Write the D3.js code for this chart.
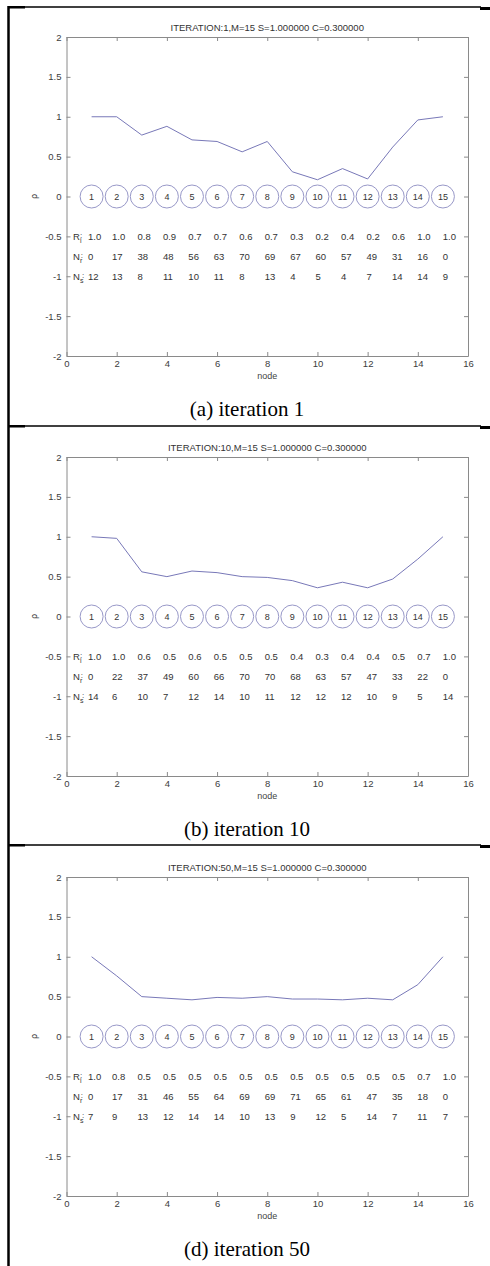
<!DOCTYPE html>
<html>
<head>
<meta charset="utf-8">
<script src="https://cdn.jsdelivr.net/npm/d3@7"></script>
<style>
  body { margin: 0; background: #fff; }
  svg { display: block; }
  .ax text { font-family: "Liberation Sans", Arial, sans-serif; font-size: 9.5px; fill: #3c3c3c; }
  .ax path, .ax line { stroke: #8a8a8a; }
</style>
</head>
<body>
<div id="chart"></div>
<script>
// ---- data ----
var nodes = [1,2,3,4,5,6,7,8,9,10,11,12,13,14,15];
var xTicks = [0,2,4,6,8,10,12,14,16];
var yTicks = [-2,-1.5,-1,-0.5,0,0.5,1,1.5,2];

var titles = [
  "ITERATION:1,M=15 S=1.000000 C=0.300000",
  "ITERATION:10,M=15 S=1.000000 C=0.300000",
  "ITERATION:50,M=15 S=1.000000 C=0.300000"
];
var captions = ["(a) iteration 1", "(b) iteration 10", "(d) iteration 50"];

// rho per node (the curve)
var rhoIter1  = [1.0,1.0,0.77,0.88,0.71,0.69,0.56,0.69,0.31,0.21,0.35,0.22,0.62,0.96,1.0];
var rhoIter10 = [1.0,0.98,0.56,0.50,0.57,0.55,0.50,0.49,0.45,0.36,0.43,0.36,0.47,0.72,1.0];
var rhoIter50 = [1.0,0.76,0.50,0.48,0.46,0.49,0.48,0.50,0.47,0.47,0.46,0.48,0.46,0.65,1.0];

// table rows
var riIter1  = ["1.0","1.0","0.8","0.9","0.7","0.7","0.6","0.7","0.3","0.2","0.4","0.2","0.6","1.0","1.0"];
var nrIter1  = [0,17,38,48,56,63,70,69,67,60,57,49,31,16,0];
var nsIter1  = [12,13,8,11,10,11,8,13,4,5,4,7,14,14,9];

var riIter10 = ["1.0","1.0","0.6","0.5","0.6","0.5","0.5","0.5","0.4","0.3","0.4","0.4","0.5","0.7","1.0"];
var nrIter10 = [0,22,37,49,60,66,70,70,68,63,57,47,33,22,0];
var nsIter10 = [14,6,10,7,12,14,10,11,12,12,12,10,9,5,14];

var riIter50 = ["1.0","0.8","0.5","0.5","0.5","0.5","0.5","0.5","0.5","0.5","0.5","0.5","0.5","0.7","1.0"];
var nrIter50 = [0,17,31,46,55,64,69,69,71,65,61,47,35,18,0];
var nsIter50 = [7,9,13,12,14,14,10,13,9,12,5,14,7,11,7];

var panels = [
  {title: titles[0], caption: captions[0], rho: rhoIter1,  ri: riIter1,  nr: nrIter1,  ns: nsIter1},
  {title: titles[1], caption: captions[1], rho: rhoIter10, ri: riIter10, nr: nrIter10, ns: nsIter10},
  {title: titles[2], caption: captions[2], rho: rhoIter50, ri: riIter50, nr: nrIter50, ns: nsIter50}
];

// ---- layout ----
var W = 490, H = 1266, step = 420;
var svg = d3.select("#chart").append("svg").attr("width", W).attr("height", H);

var x = d3.scaleLinear().domain([0,16]).range([66.5,468]);
var lineColor = "#7878b8", circColor = "#9898c8";
var sans = "'Liberation Sans', Arial, sans-serif";

// table frame
svg.append("line").attr("x1",8.5).attr("x2",8.5).attr("y1",6).attr("y2",H)
  .attr("stroke","#000").attr("stroke-width",2.5);
[7, 426, 845].forEach(function(yy){
  svg.append("line").attr("x1",8).attr("x2",481).attr("y1",yy).attr("y2",yy)
    .attr("stroke","#000").attr("stroke-width",1.3);
  svg.append("rect").attr("x",8).attr("y",yy-1).attr("width",17).attr("height",2.5).attr("fill","#000");
  svg.append("rect").attr("x",480).attr("y",yy).attr("width",10).attr("height",3).attr("fill","#000");
});

panels.forEach(function(p, k){
  var oy = k*step;
  var g = svg.append("g");
  var y = d3.scaleLinear().domain([-2,2]).range([356+oy, 37+oy]);

  // axes box (MATLAB style, ticks inward)
  g.append("g").attr("class","ax").attr("transform","translate(" + x(0) + ",0)")
    .call(d3.axisLeft(y).tickValues(yTicks).tickSizeInner(-4).tickSizeOuter(0).tickPadding(5).tickFormat(function(d){return String(d);}));
  g.append("g").attr("class","ax").attr("transform","translate(" + x(16) + ",0)")
    .call(d3.axisRight(y).tickValues(yTicks).tickSizeInner(-4).tickSizeOuter(0).tickFormat(""));
  g.append("g").attr("class","ax").attr("transform","translate(0," + y(-2) + ")")
    .call(d3.axisBottom(x).tickValues(xTicks).tickSizeInner(-4).tickSizeOuter(0).tickPadding(4).tickFormat(function(d){return String(d);}));
  g.append("g").attr("class","ax").attr("transform","translate(0," + y(2) + ")")
    .call(d3.axisTop(x).tickValues(xTicks).tickSizeInner(-4).tickSizeOuter(0).tickFormat(""));

  // title
  g.append("text").attr("x",(x(0)+x(16))/2).attr("y",31+oy).attr("text-anchor","middle")
    .attr("font-family",sans).attr("font-size",9.5).attr("fill","#333").text(p.title);
  // axis labels
  g.append("text").attr("x",(x(0)+x(16))/2).attr("y",379+oy).attr("text-anchor","middle")
    .attr("font-family",sans).attr("font-size",9).attr("fill","#444").text("node");
  g.append("text").attr("transform","translate(37," + y(0) + ") rotate(-90)").attr("text-anchor","middle")
    .attr("font-family","'DejaVu Sans', sans-serif").attr("font-size",8).attr("fill","#444").text("ρ");

  // curve
  var line = d3.line().x(function(d,i){return x(nodes[i]);}).y(function(d){return y(d);});
  g.append("path").datum(p.rho).attr("d",line).attr("fill","none")
    .attr("stroke",lineColor).attr("stroke-width",1);

  // node circles
  var c = g.selectAll(".node").data(nodes).enter().append("g")
    .attr("transform",function(d){return "translate(" + x(d) + "," + y(0) + ")";});
  c.append("circle").attr("r",11.5).attr("fill","#fff").attr("stroke",circColor).attr("stroke-width",1);
  c.append("text").attr("text-anchor","middle").attr("dy","0.35em")
    .attr("font-family",sans).attr("font-size",9).attr("fill","#333").text(function(d){return d;});

  // row labels
  var rows = [
    {v: -0.5,  name: "R", sub: "i", vals: p.ri},
    {v: -0.75, name: "N", sub: "r", vals: p.nr},
    {v: -1,    name: "N", sub: "s", vals: p.ns}
  ];
  rows.forEach(function(r){
    var t = g.append("text").attr("x",73).attr("y",y(r.v)).attr("dy","0.35em")
      .attr("font-family",sans).attr("font-size",9.5).attr("fill","#333");
    t.append("tspan").text(r.name);
    t.append("tspan").attr("font-size",7).attr("dy",3).text(r.sub);
    t.append("tspan").attr("font-size",8).attr("dx",-1.5).attr("dy",-5).text(":");
    g.selectAll(null).data(r.vals).enter().append("text")
      .attr("x",function(d,i){return i === 0 ? 88 : x(nodes[i]) - 5 + i*0.35;})
      .attr("y",y(r.v)).attr("dy","0.35em")
      .attr("font-family",sans).attr("font-size",9.5).attr("fill","#333")
      .text(function(d){return d;});
  });

  // caption
  svg.append("text").attr("x",247).attr("y",416+oy).attr("text-anchor","middle")
    .attr("font-family","'Liberation Serif', 'Times New Roman', serif").attr("font-size",21)
    .attr("fill","#000").text(p.caption);
});
</script>
</body>
</html>
